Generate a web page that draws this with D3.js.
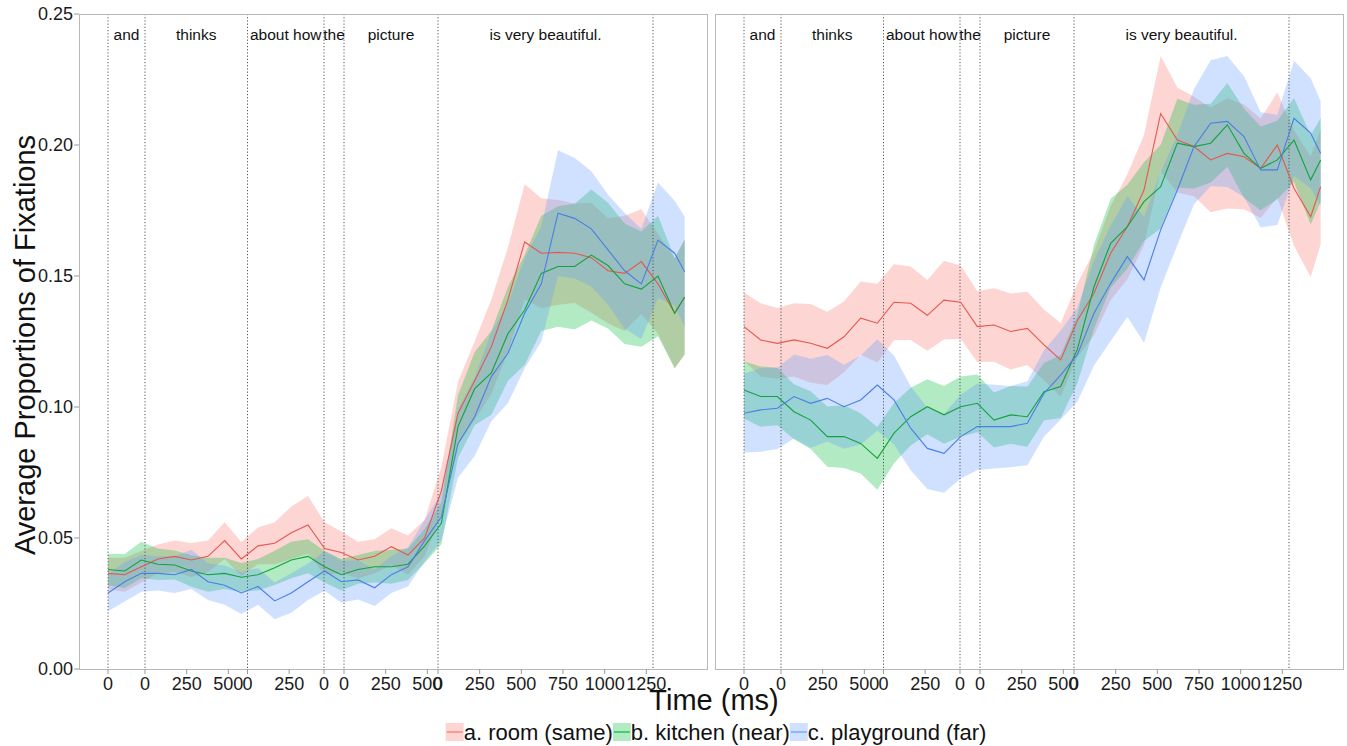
<!DOCTYPE html>
<html>
<head>
<meta charset="utf-8">
<script src="https://cdnjs.cloudflare.com/ajax/libs/d3/7.8.5/d3.min.js"></script>
<style>
  body { margin: 0; background: #fff; }
  svg { display: block; font-family: "Liberation Sans", Arial, sans-serif; }
  .panel-border { fill: none; stroke: #b8b8b8; stroke-width: 1; }
  .word-line { stroke: #555; stroke-width: 1; stroke-dasharray: 1.2 2; }
  .tick-line { stroke: #999; stroke-width: 1; }
  .tick-label { font-size: 18px; fill: #1a1a1a; }
  .word-label { font-size: 15.5px; fill: #111; }
  .axis-title { font-size: 29px; fill: #111; }
  .legend-label { font-size: 22px; fill: #111; }
</style>
</head>
<body>
<svg id="chart" width="1347" height="746"></svg>
<script>
// -----------------------------------------------------------------------------
// data

var words = ['and', 'thinks', 'about how', 'the', 'picture', 'is very beautiful.'];
var wordDurations = [222, 615, 459, 120, 564, 1290];

var times = [
  0, 100, 200, 300, 400, 500, 600, 700, 800, 900,
  1000, 1100, 1200, 1300, 1400, 1500, 1600, 1700, 1800, 1900,
  2000, 2100, 2200, 2300, 2400, 2500, 2600, 2700, 2800, 2900,
  3000, 3100, 3200, 3300, 3400, 3460
];

var yTickValues = [0, 0.05, 0.10, 0.15, 0.20, 0.25];
var conditions = ['a. room (same)', 'b. kitchen (near)', 'c. playground (far)'];

// left panel
var leftRoom = [
  0.0365, 0.036, 0.039, 0.042, 0.043, 0.0416, 0.043, 0.049, 0.042, 0.047,
  0.048, 0.052, 0.055, 0.046, 0.0445, 0.0416, 0.043, 0.0467, 0.0435, 0.050,
  0.068, 0.0976, 0.110, 0.123, 0.141, 0.163, 0.1587, 0.159, 0.1587, 0.157,
  0.152, 0.151, 0.1555, 0.147, 0.1358, 0.142
];
var leftRoomCi = [
  0.006, 0.0065, 0.006, 0.0055, 0.006, 0.0065, 0.006, 0.007, 0.0065, 0.007,
  0.008, 0.010, 0.011, 0.010, 0.008, 0.007, 0.0065, 0.007, 0.0075, 0.007,
  0.009, 0.012, 0.015, 0.018, 0.020, 0.022, 0.021, 0.020, 0.019, 0.021,
  0.020, 0.022, 0.020, 0.019, 0.021, 0.022
];
var leftKitchen = [
  0.038, 0.0374, 0.0416, 0.040, 0.0397, 0.0374, 0.036, 0.0365, 0.035, 0.036,
  0.0386, 0.0416, 0.043, 0.039, 0.036, 0.038, 0.039, 0.039, 0.040, 0.047,
  0.0556, 0.0925, 0.107, 0.113, 0.128, 0.137, 0.151, 0.1536, 0.1536, 0.158,
  0.154, 0.147, 0.145, 0.150, 0.1358, 0.142
];
var leftKitchenCi = [
  0.006, 0.0065, 0.007, 0.006, 0.0055, 0.006, 0.0065, 0.006, 0.0055, 0.006,
  0.0065, 0.007, 0.0065, 0.006, 0.006, 0.0055, 0.006, 0.0065, 0.006, 0.0065,
  0.008, 0.012, 0.014, 0.016, 0.018, 0.021, 0.022, 0.023, 0.024, 0.025,
  0.024, 0.023, 0.022, 0.023, 0.021, 0.022
];
var leftPlayground = [
  0.029, 0.0333, 0.0365, 0.0365, 0.036, 0.038, 0.0333, 0.032, 0.029, 0.0315,
  0.026, 0.029, 0.0333, 0.0374, 0.0333, 0.034, 0.031, 0.036, 0.039, 0.049,
  0.058, 0.086, 0.0963, 0.1116, 0.1205, 0.1358, 0.147, 0.174, 0.172, 0.168,
  0.160, 0.152, 0.147, 0.1637, 0.1587, 0.1516
];
var leftPlaygroundCi = [
  0.007, 0.0075, 0.007, 0.0065, 0.007, 0.0075, 0.007, 0.0075, 0.008, 0.007,
  0.007, 0.0075, 0.007, 0.0075, 0.008, 0.0075, 0.007, 0.007, 0.0075, 0.008,
  0.009, 0.013, 0.015, 0.017, 0.019, 0.021, 0.022, 0.024, 0.023, 0.022,
  0.021, 0.022, 0.021, 0.022, 0.020, 0.021
];

// right panel
var rightRoom = [
  0.1307, 0.1256, 0.1243, 0.1256, 0.1243, 0.1224, 0.1268, 0.1339, 0.132, 0.140,
  0.1396, 0.135, 0.1408, 0.140, 0.1307, 0.1313, 0.1288, 0.130, 0.1237, 0.118,
  0.133, 0.1434, 0.1587, 0.1688, 0.1828, 0.212, 0.2019, 0.1994, 0.1943, 0.1968,
  0.1955, 0.1911, 0.200, 0.1835, 0.1726, 0.1841
];
var rightRoomCi = [
  0.013, 0.014, 0.0135, 0.014, 0.015, 0.014, 0.0135, 0.014, 0.015, 0.0145,
  0.014, 0.0135, 0.015, 0.014, 0.0135, 0.014, 0.0145, 0.014, 0.0135, 0.014,
  0.014, 0.016, 0.018, 0.020, 0.021, 0.022, 0.020, 0.019, 0.020, 0.021,
  0.020, 0.019, 0.020, 0.022, 0.023, 0.022
];
var rightKitchen = [
  0.1065, 0.104, 0.104, 0.0982, 0.095, 0.0887, 0.0887, 0.0861, 0.0804, 0.090,
  0.0963, 0.1001, 0.097, 0.1001, 0.1014, 0.095, 0.097, 0.0963, 0.1058, 0.1078,
  0.122, 0.1459, 0.1625, 0.1688, 0.1784, 0.1841, 0.2007, 0.1994, 0.2007, 0.2077,
  0.1968, 0.1911, 0.1943, 0.2019, 0.1867, 0.1943
];
var rightKitchenCi = [
  0.011, 0.0115, 0.011, 0.0105, 0.011, 0.0115, 0.012, 0.0115, 0.012, 0.0115,
  0.011, 0.0105, 0.011, 0.0115, 0.011, 0.0105, 0.011, 0.0115, 0.011, 0.012,
  0.013, 0.016, 0.017, 0.016, 0.015, 0.016, 0.017, 0.016, 0.015, 0.016,
  0.017, 0.016, 0.015, 0.016, 0.017, 0.016
];
var rightPlayground = [
  0.0976, 0.0989, 0.0995, 0.104, 0.1014, 0.1033, 0.1001, 0.1027, 0.1084, 0.1027,
  0.0919, 0.0842, 0.0823, 0.0887, 0.0925, 0.0925, 0.0925, 0.0938, 0.1052, 0.1122,
  0.12, 0.1358, 0.1472, 0.1574, 0.1485, 0.1676, 0.1828, 0.1994, 0.2083, 0.209,
  0.2032, 0.1905, 0.1905, 0.2102, 0.2045, 0.1968
];
var rightPlaygroundCi = [
  0.015, 0.016, 0.0155, 0.016, 0.017, 0.0165, 0.016, 0.017, 0.0175, 0.017,
  0.016, 0.0155, 0.015, 0.016, 0.0165, 0.016, 0.0155, 0.016, 0.0165, 0.017,
  0.018, 0.020, 0.022, 0.023, 0.024, 0.022, 0.021, 0.022, 0.024, 0.025,
  0.023, 0.022, 0.021, 0.022, 0.021, 0.020
];

// -----------------------------------------------------------------------------
// layout

var ribbonColors = ['#F8766D', '#00BA38', '#619CFF'];
var lineColors = ['#E5574F', '#12A33C', '#4A7FE6'];

var panelTop = 14;
var panelWidth = 629;
var panelHeight = 655;
var panelLefts = [79, 715];

var x = d3.scaleLinear().domain([-174, 3600]).range([0, panelWidth]);
var y = d3.scaleLinear().domain([0, 0.25]).range([panelHeight, 0]);

function buildSeries(means, cis) {
  return times.map(function (t, i) {
    return { t: t, mean: means[i], lo: means[i] - cis[i], hi: means[i] + cis[i] };
  });
}

var panels = [
  [
    buildSeries(leftRoom, leftRoomCi),
    buildSeries(leftKitchen, leftKitchenCi),
    buildSeries(leftPlayground, leftPlaygroundCi)
  ],
  [
    buildSeries(rightRoom, rightRoomCi),
    buildSeries(rightKitchen, rightKitchenCi),
    buildSeries(rightPlayground, rightPlaygroundCi)
  ]
];

// word onsets, plus the offset of the last word
var wordStarts = [0];
wordDurations.forEach(function (d, i) { wordStarts.push(wordStarts[i] + d); });

var wordSegments = words.map(function (w, i) {
  return { word: w, start: wordStarts[i], end: wordStarts[i + 1] };
});

var xTicks = [];
wordSegments.forEach(function (s) {
  for (var k = 0; k * 250 < s.end - s.start; k++) {
    xTicks.push({ t: s.start + k * 250, label: String(k * 250) });
  }
});

// -----------------------------------------------------------------------------

var svg = d3.select('#chart');

var area = d3.area()
  .x(function (d) { return x(d.t); })
  .y0(function (d) { return y(d.lo); })
  .y1(function (d) { return y(d.hi); });

var line = d3.line()
  .x(function (d) { return x(d.t); })
  .y(function (d) { return y(d.mean); });

var gPanel = svg
  .selectAll('g.panel')
  .data(panels)
  .join('g')
  .classed('panel', true)
  .attr('transform', function (d, i) {
    return 'translate(' + panelLefts[i] + ',' + panelTop + ')';
  });

// ribbons first, lines on top
gPanel
  .selectAll('path.ribbon')
  .data(function (d) { return d; })
  .join('path')
  .classed('ribbon', true)
  .attr('d', area)
  .attr('fill', function (d, i) { return ribbonColors[i]; })
  .attr('fill-opacity', 0.3);

gPanel
  .selectAll('line.word-line')
  .data(wordStarts)
  .join('line')
  .classed('word-line', true)
  .attr('x1', function (d) { return x(d); })
  .attr('x2', function (d) { return x(d); })
  .attr('y1', 0)
  .attr('y2', panelHeight);

gPanel
  .selectAll('path.mean')
  .data(function (d) { return d; })
  .join('path')
  .classed('mean', true)
  .attr('d', line)
  .attr('fill', 'none')
  .attr('stroke', function (d, i) { return lineColors[i]; })
  .attr('stroke-width', 1.1);

gPanel
  .selectAll('rect.panel-border')
  .data([0])
  .join('rect')
  .classed('panel-border', true)
  .attr('x', 0.5)
  .attr('y', 0.5)
  .attr('width', panelWidth - 1)
  .attr('height', panelHeight);

gPanel
  .selectAll('text.word-label')
  .data(wordSegments)
  .join('text')
  .classed('word-label', true)
  .attr('x', function (d) { return x((d.start + d.end) / 2); })
  .attr('y', 26)
  .attr('text-anchor', 'middle')
  .text(function (d) { return d.word; });

// x ticks
gPanel
  .selectAll('line.x-tick')
  .data(xTicks)
  .join('line')
  .classed('tick-line x-tick', true)
  .attr('x1', function (d) { return x(d.t); })
  .attr('x2', function (d) { return x(d.t); })
  .attr('y1', panelHeight)
  .attr('y2', panelHeight + 5);

gPanel
  .selectAll('text.x-label')
  .data(xTicks)
  .join('text')
  .classed('tick-label x-label', true)
  .attr('x', function (d) { return x(d.t); })
  .attr('y', panelHeight + 21)
  .attr('text-anchor', 'middle')
  .text(function (d) { return d.label; });

// y axis on the left panel only
var gYAxis = svg.append('g')
  .attr('transform', 'translate(' + panelLefts[0] + ',' + panelTop + ')');

gYAxis
  .selectAll('line.y-tick')
  .data(yTickValues)
  .join('line')
  .classed('tick-line y-tick', true)
  .attr('x1', -5)
  .attr('x2', 0)
  .attr('y1', function (d) { return y(d); })
  .attr('y2', function (d) { return y(d); });

gYAxis
  .selectAll('text.y-label')
  .data(yTickValues)
  .join('text')
  .classed('tick-label y-label', true)
  .attr('x', -6)
  .attr('y', function (d) { return y(d); })
  .attr('dy', '0.35em')
  .attr('text-anchor', 'end')
  .text(function (d) { return d3.format('.2f')(d); });

// -----------------------------------------------------------------------------
// titles

svg.append('text')
  .classed('axis-title', true)
  .attr('transform', 'translate(35,345) rotate(-90)')
  .attr('text-anchor', 'middle')
  .text('Average Proportions of Fixations');

svg.append('text')
  .classed('axis-title', true)
  .attr('x', 714)
  .attr('y', 710)
  .attr('text-anchor', 'middle')
  .text('Time (ms)');

// -----------------------------------------------------------------------------
// legend

var keySize = 18;
var gLegend = svg.append('g').attr('transform', 'translate(0,723)');

var legendItems = gLegend
  .selectAll('g.legend-item')
  .data(conditions)
  .join('g')
  .classed('legend-item', true);

legendItems.append('rect')
  .attr('width', keySize)
  .attr('height', keySize)
  .attr('fill', function (d, i) { return ribbonColors[i]; })
  .attr('fill-opacity', 0.3);

legendItems.append('line')
  .attr('x1', 1)
  .attr('x2', keySize - 1)
  .attr('y1', keySize / 2)
  .attr('y2', keySize / 2)
  .attr('stroke', function (d, i) { return ribbonColors[i]; })
  .attr('stroke-width', 1.2);

legendItems.append('text')
  .classed('legend-label', true)
  .attr('x', keySize)
  .attr('y', keySize - 1)
  .text(function (d) { return d; });

// lay the items out end to end and centre the row
var offsets = [];
var cursor = 0;
legendItems.each(function () {
  offsets.push(cursor);
  cursor += this.getBBox().width;
});
var legendStart = 716 - cursor / 2;
legendItems.attr('transform', function (d, i) {
  return 'translate(' + (legendStart + offsets[i]) + ',0)';
});

// -----------------------------------------------------------------------------
</script>
</body>
</html>
